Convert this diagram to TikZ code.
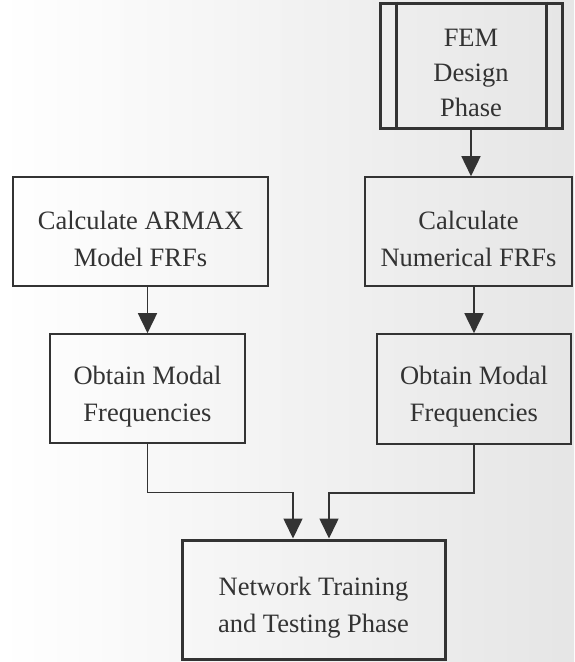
\documentclass[tikz,border=0pt]{standalone}
\usepackage{fontspec}
\setmainfont{Liberation Serif}
\usetikzlibrary{arrows.meta,calc}
\definecolor{ink}{HTML}{333333}
\newcommand\dnstrut{\rule{0pt}{34pt}}
\tikzset{
  box/.style={draw=ink, line width=1.6pt, align=center, inner sep=0pt,
    text=ink, font=\fontsize{26.5pt}{37pt}\selectfont},
  heavybox/.style={box, line width=3pt},
  arr/.style={draw=ink, line width=1.6pt,
    -{Triangle[length=20pt,width=19pt]}}
}
\begin{document}
\begin{tikzpicture}[x=1pt,y=-1pt]
\shade[left color=white, right color=black!10] (0,0) rectangle (574,662);
\useasboundingbox (0,0) rectangle (574,662);

\node[heavybox, minimum width=182pt, minimum height=125pt,
  font=\fontsize{26.5pt}{35pt}\selectfont] (fem) at (471,65.5) {\rule{0pt}{33pt}FEM\\Design\\Phase};
\draw[ink, line width=2.6pt] ($(fem.north west)+(18,0)$) -- ($(fem.south west)+(18,0)$);
\draw[ink, line width=2.6pt] ($(fem.north east)+(-17,0)$) -- ($(fem.south east)+(-17,0)$);

\node[box, minimum width=255pt, minimum height=109pt] (l1) at (140.5,231.5) {\dnstrut Calculate ARMAX\\Model FRFs};
\node[box, minimum width=207pt, minimum height=109pt] (r1) at (468.5,231.5) {\dnstrut Calculate\\Numerical FRFs};
\node[box, minimum width=195pt, minimum height=109pt] (l2) at (147.5,388.5) {\dnstrut Obtain Modal\\Frequencies};
\node[box, minimum width=194pt, minimum height=110pt] (r2) at (474,389) {\dnstrut Obtain Modal\\Frequencies};
\node[heavybox, minimum width=263pt, minimum height=119pt] (nt) at (313.5,599.5) {\dnstrut Network Training\\and Testing Phase};

\draw[arr] (fem.south) -- (fem.south |- r1.north);
\draw[arr] (l2.north |- l1.south) -- (l2.north);
\draw[arr] (r2.north |- r1.south) -- (r2.north);
\draw[arr] (l2.south) -- ++(0,48.5) -| ([xshift=-20.5pt]nt.north);
\draw[arr] (r2.south) -- ++(0,48) -| ([xshift=15.5pt]nt.north);
\end{tikzpicture}
\end{document}
